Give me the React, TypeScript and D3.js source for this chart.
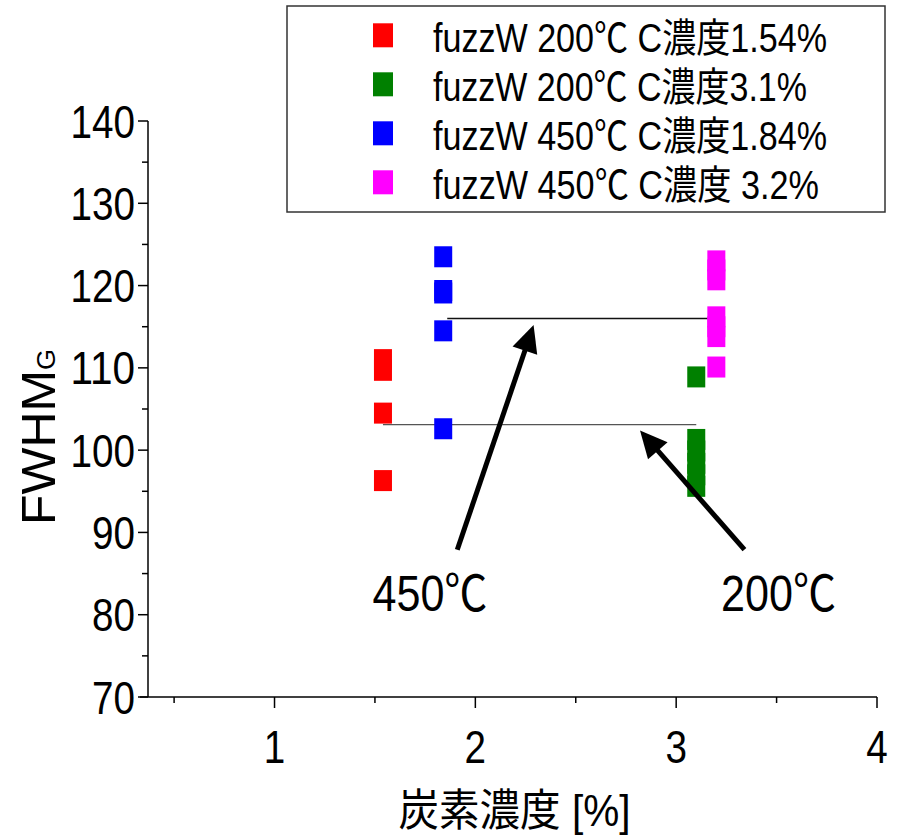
import * as d3 from 'd3';

const W = 899;
const H = 835;

// legend / series
const seriesNames = [
  'fuzzW 200℃ C濃度1.54%',
  'fuzzW 200℃ C濃度3.1%',
  'fuzzW 450℃ C濃度1.84%',
  'fuzzW 450℃ C濃度 3.2%',
];
const seriesColors = ['#ff0000', '#008000', '#0000ff', '#ff00ff'];
const seriesX = [1.54, 3.1, 1.84, 3.2];

// FWHM_G values
const red200 = [111.0, 109.7, 104.5, 96.3];
const green200 = [108.9, 101.3, 99.9, 98.4, 97.0, 95.6];
const blue450 = [123.5, 119.4, 119.1, 114.5, 102.6];
const magenta450 = [123.0, 121.9, 120.7, 116.2, 115.0, 113.8, 110.1];
const seriesValues = [red200, green200, blue450, magenta450];

// ticks
const xTicks = [1, 2, 3, 4];
const xMinor = [0.5, 1.5, 2.5, 3.5];
const yTicks = [70, 80, 90, 100, 110, 120, 130, 140];
const yMinor = [75, 85, 95, 105, 115, 125, 135];

// reference lines (mean levels)
const refX1 = [1.86, 1.54];
const refX2 = [3.2, 3.1];
const refY = [116.0, 103.1];
const refColor = ['#111', '#555'];

// annotation arrows and their labels
const arrowLabels = ['450℃', '200℃'];
const arrowFromX = [1.91, 3.34];
const arrowFromY = [87.9, 87.9];
const arrowToX = [2.29, 2.82];
const arrowToY = [115.2, 102.4];
const labelX = [1.774, 3.51];
const labelY = [80.5, 80.5];

const latin = "'Liberation Sans', Arial, sans-serif";
const mixed = "'Liberation Sans', 'Noto Sans CJK JP', sans-serif";

function Arrow({ x1, y1, x2, y2 }: { x1: number; y1: number; x2: number; y2: number }) {
  const dx = x2 - x1;
  const dy = y2 - y1;
  const len = Math.sqrt(dx * dx + dy * dy);
  const ux = dx / len;
  const uy = dy / len;
  const headLen = 27;
  const half = 13;
  const bx = x2 - ux * headLen;
  const by = y2 - uy * headLen;
  const pts = [
    [x2, y2],
    [bx - uy * half, by + ux * half],
    [bx + uy * half, by - ux * half],
  ];
  return (
    <g>
      <line x1={x1} y1={y1} x2={bx + ux * 2} y2={by + uy * 2} stroke="#000" strokeWidth={5} />
      <polygon points={pts.map((p) => p.join(',')).join(' ')} fill="#000" />
    </g>
  );
}

export default function App() {
  const x = d3.scaleLinear().domain([0.37, 4]).range([148, 877]);
  const y = d3.scaleLinear().domain([70, 140]).range([697, 121]);
  const [x0, x1] = x.range();
  const [y0, y1] = y.range();

  const markW = 18;
  const markH = 21;

  return (
    <svg
      width={W}
      height={H}
      style={{ position: 'absolute', left: 0, top: 0, background: '#fff' }}
    >
      <rect width={W} height={H} fill="#fff" />

      {/* reference lines */}
      {refY.map((v, i) => (
        <line
          key={'ref' + i}
          x1={x(refX1[i])}
          x2={x(refX2[i])}
          y1={y(v)}
          y2={y(v)}
          stroke={refColor[i]}
          strokeWidth={1.3}
        />
      ))}

      {/* data markers */}
      {seriesValues.map((vals, si) =>
        vals.map((v, j) => (
          <rect
            key={`m${si}-${j}`}
            x={x(seriesX[si]) - markW / 2}
            y={y(v) - markH / 2}
            width={markW}
            height={markH}
            fill={seriesColors[si]}
          />
        ))
      )}

      {/* arrows */}
      {arrowLabels.map((lab, i) => (
        <g key={'arr' + i}>
          <Arrow x1={x(arrowFromX[i])} y1={y(arrowFromY[i])} x2={x(arrowToX[i])} y2={y(arrowToY[i])} />
          <text
            x={x(labelX[i])}
            y={y(labelY[i])}
            textAnchor="middle"
            fontFamily={mixed}
            fontSize={50}
            textLength={115}
            lengthAdjust="spacingAndGlyphs"
          >
            {lab}
          </text>
        </g>
      ))}

      {/* y axis */}
      <line x1={x0} x2={x0} y1={y0} y2={y1} stroke="#000" strokeWidth={1.5} />
      {yTicks.map((t) => (
        <g key={'yt' + t}>
          <line x1={x0 - 10} x2={x0} y1={y(t)} y2={y(t)} stroke="#000" strokeWidth={1.5} />
          <text
            x={135}
            y={y(t) + 16.5}
            textAnchor="end"
            fontFamily={latin}
            fontSize={46}
            textLength={String(t).length * 21.5}
            lengthAdjust="spacingAndGlyphs"
          >
            {t}
          </text>
        </g>
      ))}
      {yMinor.map((t) => (
        <line key={'ym' + t} x1={x0 - 6} x2={x0} y1={y(t)} y2={y(t)} stroke="#000" strokeWidth={1.5} />
      ))}

      {/* x axis */}
      <line x1={x0 - 8} x2={x1} y1={y0} y2={y0} stroke="#000" strokeWidth={1.5} />
      {xTicks.map((t) => (
        <g key={'xt' + t}>
          <line x1={x(t)} x2={x(t)} y1={y0} y2={y0 + 11} stroke="#000" strokeWidth={1.5} />
          <text
            x={x(t)}
            y={y0 + 66}
            textAnchor="middle"
            fontFamily={latin}
            fontSize={46}
            textLength={21.5}
            lengthAdjust="spacingAndGlyphs"
          >
            {t}
          </text>
        </g>
      ))}
      {xMinor.map((t) => (
        <line key={'xm' + t} x1={x(t)} x2={x(t)} y1={y0} y2={y0 + 6} stroke="#000" strokeWidth={1.5} />
      ))}

      {/* axis titles */}
      <text
        x={(x0 + x1) / 2 + 2}
        y={826}
        textAnchor="middle"
        fontFamily={mixed}
        fontSize={44}
        textLength={232}
        lengthAdjust="spacingAndGlyphs"
      >
        炭素濃度 [%]
      </text>
      <text
        transform={`translate(55,${(y0 + y1) / 2 + 28}) rotate(-90)`}
        textAnchor="middle"
        fontFamily={latin}
        fontSize={48}
        textLength={176}
        lengthAdjust="spacingAndGlyphs"
      >
        FWHM<tspan fontSize={26}>G</tspan>
      </text>

      {/* legend */}
      <rect x={287} y={6} width={598} height={206} fill="#fff" stroke="#333" strokeWidth={1.5} />
      {seriesNames.map((name, i) => (
        <g key={'lg' + i}>
          <rect x={373} y={23.3 + i * 49} width={20} height={24} fill={seriesColors[i]} />
          <text
            x={433}
            y={51.7 + i * 49}
            fontFamily={mixed}
            fontSize={40}
            textLength={[394, 374, 394, 386][i]}
            lengthAdjust="spacingAndGlyphs"
          >
            {name}
          </text>
        </g>
      ))}
    </svg>
  );
}
